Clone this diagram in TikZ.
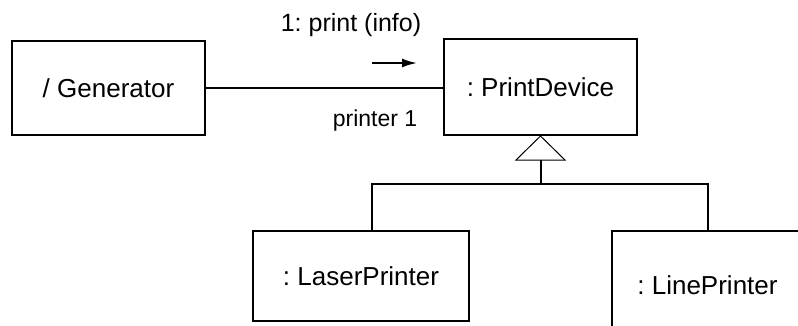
\documentclass[tikz,border=0pt]{standalone}
\usepackage{fontspec}
\setmainfont{Liberation Sans}
\usetikzlibrary{positioning,arrows.meta}
\frenchspacing

\begin{document}
\begin{tikzpicture}[x=1pt, y=-1pt,
    objbox/.style={draw, line width=2pt, rectangle, inner sep=0pt, font=\fontsize{26}{30}\selectfont},
    lbl/.style={inner sep=0pt, font=\fontsize{25}{29}\selectfont}]
\useasboundingbox (0,0) rectangle (798,325);
\clip (0,0) rectangle (798,325);

% Objects
\node[objbox, minimum width=193pt, minimum height=94pt] (gen) at (108.5, 88) {/ Generator};
\node[objbox, minimum width=193pt, minimum height=96pt] (pd) at (540.5, 87) {: PrintDevice};
\node[objbox, minimum width=216pt, minimum height=90pt] (laser) at (361, 276) {: LaserPrinter};
\node[objbox, minimum width=191pt, minimum height=108pt] (lineprn) at (707.5, 285) {: LinePrinter};

% Link with message
\draw[line width=2pt] (gen.east) -- (gen.east -| pd.west);
\node[lbl] (msg) at (351, 25) {1: print (info)};
\node[lbl, font=\fontsize{23}{27}\selectfont] (role) at (375, 121) {printer 1};
\coordinate (msgtail) at (372, 63);
\coordinate (msghead) at (417, 63);
\draw[line width=2pt, -{Latex[length=15pt, width=9pt]}] (msgtail) -- (msghead);

% Generalisation
\draw[line width=1pt] (pd.south) -- ++(-24.5, 24) -- ++(49, 0) -- cycle;
\coordinate (tri) at ([yshift=-24pt]pd.south);
\coordinate (fork) at ([yshift=-48pt]pd.south);
\draw[line width=2pt] (tri) -- (fork);
\draw[line width=2pt] ([xshift=11pt]laser.north) |- (fork) -| (lineprn.north);

\end{tikzpicture}
\end{document}
